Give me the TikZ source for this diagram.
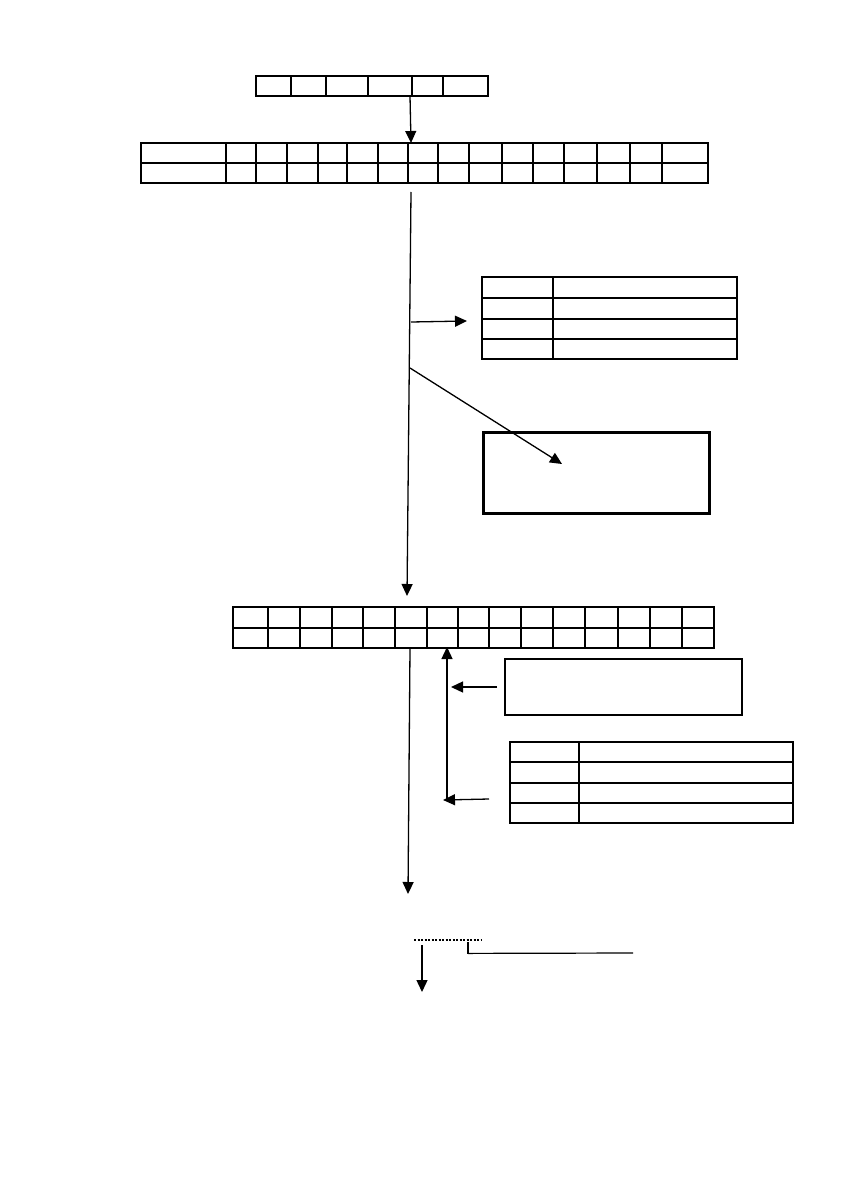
\documentclass[tikz,border=0pt]{standalone}
\usetikzlibrary{arrows.meta}
\begin{document}
\begin{tikzpicture}[x=1pt,y=-1pt,
  grid/.style={line width=1.2pt},
  thk/.style={line width=2.4pt},
  conn/.style={line width=1.3pt,-{Triangle[length=12pt,width=11pt]}},
  plain/.style={line width=1.3pt},
  tbl/.style={draw,line width=1.2pt,rectangle,inner sep=0pt,outer sep=0pt,anchor=north west},
]
\useasboundingbox[fill=white] (0,0) rectangle (840,1190);

% top table (one row, 6 cells)
\node[tbl,minimum width=232pt,minimum height=20pt] (tabA) at (256,76) {};
\foreach \x in {291,326,368,412,443} \draw[grid] (\x,76)--(\x,96);

% second table (two rows, 16 cells)
\node[tbl,minimum width=567pt,minimum height=40pt] (tabB) at (141,143) {};
\draw[grid] (141,163)--(708,163);
\foreach \x in {226,256,287,318,347,378,408,438,469,502,533,564,597,630,662} \draw[grid] (\x,143)--(\x,183);

% right table 1
\node[tbl,minimum width=255pt,minimum height=82pt] (tabR1) at (482,277) {};
\foreach \y in {319,339} \draw[grid] (482,\y)--(737,\y);
\draw[grid] (553,298)--(553,359);
\draw[thk] (482,277) rectangle (737,298);
\draw[thk] (553,277)--(553,298);

% thick box
\node[draw,line width=3pt,rectangle,inner sep=0pt,anchor=north west,minimum width=226pt,minimum height=81pt] (boxD) at (482,431) {};

% third table (two rows, 15 cells)
\node[tbl,minimum width=481pt,minimum height=41pt] (tabC) at (233,607) {};
\draw[grid] (233,628)--(714,628);
\foreach \x in {268,300,332,363,395,427,458,489,521,553,585,618,650,682} \draw[grid] (\x,607)--(\x,648);

% box E
\node[draw,line width=1.5pt,rectangle,inner sep=0pt,anchor=north west,minimum width=237pt,minimum height=56pt] (boxE) at (504,658) {};

% right table 2
\node[tbl,minimum width=283pt,minimum height=81pt] (tabR2) at (510,742) {};
\foreach \y in {783,803} \draw[grid] (510,\y)--(793,\y);
\draw[grid] (579,762)--(579,823);
\draw[thk] (510,742) rectangle (793,762);
\draw[thk] (579,742)--(579,762);

% coordinates for connectors
\coordinate (a0) at (410,96);
\coordinate (a1) at (411,143);
\coordinate (t0) at (411,192);
\coordinate (t1) at (407,596);
\coordinate (b0) at (411,322);
\coordinate (b1) at (467,321);
\coordinate (d0) at (410,368);
\coordinate (d1) at (562,464);
\coordinate (c0) at (410,648);
\coordinate (c1) at (408,894);
\coordinate (u0) at (447,800);
\coordinate (u1) at (447,647);
\coordinate (e0) at (497,687);
\coordinate (e1) at (451,687);
\coordinate (f0) at (489,799);
\coordinate (f1) at (443,800);
\coordinate (g0) at (414,940);
\coordinate (g1) at (481,940);
\coordinate (h0) at (422,945);
\coordinate (h1) at (422,992);
\coordinate (k0) at (468,942);
\coordinate (k1) at (468,954);
\coordinate (k2) at (633,953);

\draw[conn] (a0) -- (a1);
\draw[conn] (t0) -- (t1);
\draw[conn] (b0) -- (b1);
\draw[conn] (d0) -- (d1);
\draw[conn] (c0) -- (c1);
\draw[conn] (u0) -- (u1);
\draw[conn] (e0) -- (e1);
\draw[conn] (f0) -- (f1);
\draw[line width=1.6pt,dash pattern=on 2pt off 1.5pt] (g0) -- (g1);
\draw[conn] (h0) -- (h1);
\draw[plain] (k0) -- (k1);
\draw[line width=1.2pt] (k1 -| k0) ++(0,-0.6) -- (k2);
\end{tikzpicture}
\end{document}
